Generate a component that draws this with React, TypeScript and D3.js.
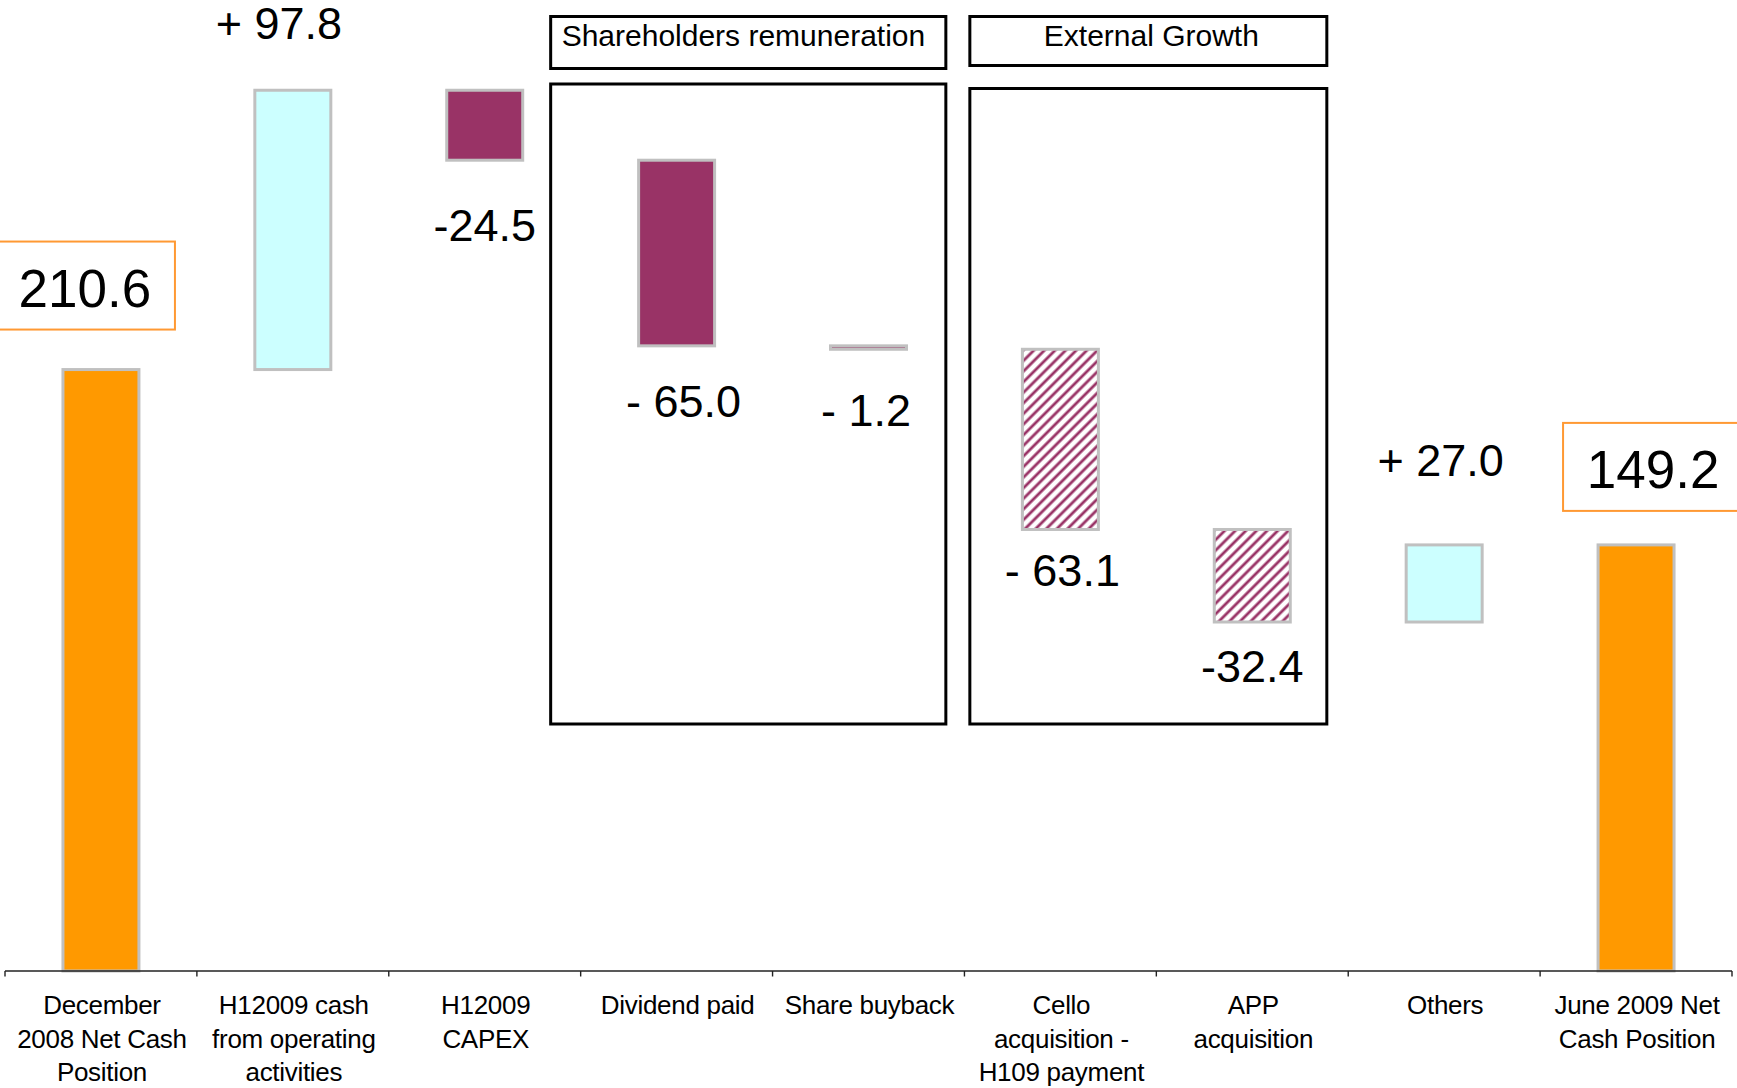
import React from "react";
import * as d3 from "d3";

// Net cash bridge, December 2008 -> June 2009 (EUR m)
const categoryLines: string[][] = [
  ["December", "2008 Net Cash", "Position"],
  ["H12009 cash", "from operating", "activities"],
  ["H12009", "CAPEX"],
  ["Dividend paid"],
  ["Share buyback"],
  ["Cello", "acquisition -", "H109 payment"],
  ["APP", "acquisition"],
  ["Others"],
  ["June 2009 Net", "Cash Position"],
];
const categories = categoryLines.map((l) => l.join(" "));
const values = [210.6, 97.8, -24.5, -65.0, -1.2, -63.1, -32.4, 27.0, 149.2];
const kinds = ["total", "inflow", "outflow", "outflow", "outflow", "acquisition", "acquisition", "inflow", "total"];
// whether the sign is followed by a space in the value label
const spacedSign = [false, true, false, true, true, true, false, true, false];

const groups = [
  { title: "Shareholders remuneration", from: 3, to: 4 },
  { title: "External Growth", from: 5, to: 6 },
];

// ---- layout ----
const W = 1737;
const H = 1088;
const AXIS_Y = 971;
const X0 = 5;
const X1 = 1732;
const Y_MAX = 340;
const BAR_RATIO = 0.396;
const FONT = "'Liberation Sans', Arial, Helvetica, sans-serif";

// label nudges [dx, baseline offset from bar end]
const labelNudge: [number, number][] = [
  [-16, -63],
  [-14, -51.5],
  [0, 81],
  [7, 71],
  [-2.5, 77],
  [2, 56.5],
  [0, 60],
  [-3.5, -69],
  [17, -57],
];
// group frames: [left inset from first band, right inset from last band end]
const groupInsets: [number, number][] = [
  [-30, -18.6],
  [5.4, -21.4],
];
const groupHeaderHeight = [52, 49];
const groupBodyTop = [84, 88.5];
const groupAlign = ["start", "middle"];

const fillFor: Record<string, string> = {
  total: "#FF9900",
  inflow: "#CCFFFF",
  outflow: "#993366",
  acquisition: "url(#hatch)",
};

export default function App() {
  const x = d3.scaleBand<string>().domain(categories).range([X0, X1]).paddingInner(0).paddingOuter(0);
  const y = d3.scaleLinear().domain([0, Y_MAX]).range([AXIS_Y, 0]);
  const bw = x.bandwidth();
  const barW = bw * BAR_RATIO;

  // running waterfall positions
  let running = 0;
  const bars = values.map((v, i) => {
    const kind = kinds[i];
    let start: number, end: number;
    if (kind === "total") {
      start = 0;
      end = v;
      running = v;
    } else {
      start = running;
      end = running + v;
      running = end;
    }
    return { i, v, kind, lo: Math.min(start, end), hi: Math.max(start, end) };
  });

  const ticks = d3.range(categories.length + 1).map((k) => (k < categories.length ? x(categories[k])! : X1));

  return (
    <svg
      width={W}
      height={H}
      viewBox={`0 0 ${W} ${H}`}
      style={{ position: "absolute", left: 0, top: 0, background: "#fff", display: "block" }}
      fontFamily={FONT}
    >
      <defs>
        <pattern id="hatch" patternUnits="userSpaceOnUse" width={7.5} height={7.5} patternTransform="rotate(45)">
          <rect width={7.5} height={7.5} fill="#ffffff" />
          <line x1={3.75} y1={0} x2={3.75} y2={7.5} stroke="#993366" strokeWidth={2.8} />
        </pattern>
      </defs>

      {/* group frames */}
      {groups.map((g, gi) => {
        const left = x(categories[g.from])! + groupInsets[gi][0];
        const right = x(categories[g.to])! + bw + groupInsets[gi][1];
        const hh = groupHeaderHeight[gi];
        return (
          <g key={g.title}>
            <rect x={left} y={16.5} width={right - left} height={hh} fill="none" stroke="#000" strokeWidth={3} />
            <rect
              x={left}
              y={groupBodyTop[gi]}
              width={right - left}
              height={724 - groupBodyTop[gi]}
              fill="none"
              stroke="#000"
              strokeWidth={3}
            />
            <text
              x={groupAlign[gi] === "start" ? left + 11 : (left + right) / 2 + 3}
              y={45.7}
              fontSize={30}
              textAnchor={groupAlign[gi]}
              fill="#000"
            >
              {g.title}
            </text>
          </g>
        );
      })}

      {/* bars */}
      {bars.map((b) => {
        const cx = x(categories[b.i])! + bw / 2;
        return (
          <rect
            key={categories[b.i]}
            x={cx - barW / 2}
            y={y(b.hi)}
            width={barW}
            height={y(b.lo) - y(b.hi)}
            fill={fillFor[b.kind]}
            stroke="#C0C0C0"
            strokeWidth={3}
          />
        );
      })}

      {/* value labels */}
      {bars.map((b) => {
        const cx = x(categories[b.i])! + bw / 2 + labelNudge[b.i][0];
        if (b.kind === "total") {
          const base = y(b.hi) + labelNudge[b.i][1];
          return (
            <g key={"lab" + b.i}>
              <rect x={cx - 90} y={base - 65} width={180} height={88} fill="#fff" stroke="#FF9933" strokeWidth={2} />
              <text x={cx} y={base} fontSize={53} textAnchor="middle" fill="#000">
                {b.v.toFixed(1)}
              </text>
            </g>
          );
        }
        const anchorY = b.v >= 0 ? y(b.hi) : y(b.lo);
        const txt = (b.v >= 0 ? "+" : "-") + (spacedSign[b.i] ? " " : "") + Math.abs(b.v).toFixed(1);
        return (
          <text key={"lab" + b.i} x={cx} y={anchorY + labelNudge[b.i][1]} fontSize={45} textAnchor="middle" fill="#000">
            {txt}
          </text>
        );
      })}

      {/* category axis */}
      <line x1={X0} x2={X1} y1={AXIS_Y} y2={AXIS_Y} stroke="#222" strokeWidth={1.4} />
      {ticks.map((tx, k) => (
        <line key={"t" + k} x1={tx} x2={tx} y1={AXIS_Y} y2={AXIS_Y + 5.5} stroke="#222" strokeWidth={1.4} />
      ))}
      {categoryLines.map((lines, i) => {
        const cx = x(categories[i])! + bw / 2 + 1;
        return (
          <text key={"c" + i} fontSize={26} textAnchor="middle" fill="#000" letterSpacing={-0.3}>
            {lines.map((ln, j) => (
              <tspan key={j} x={cx} y={1014 + j * 33.7}>
                {ln}
              </tspan>
            ))}
          </text>
        );
      })}
    </svg>
  );
}
